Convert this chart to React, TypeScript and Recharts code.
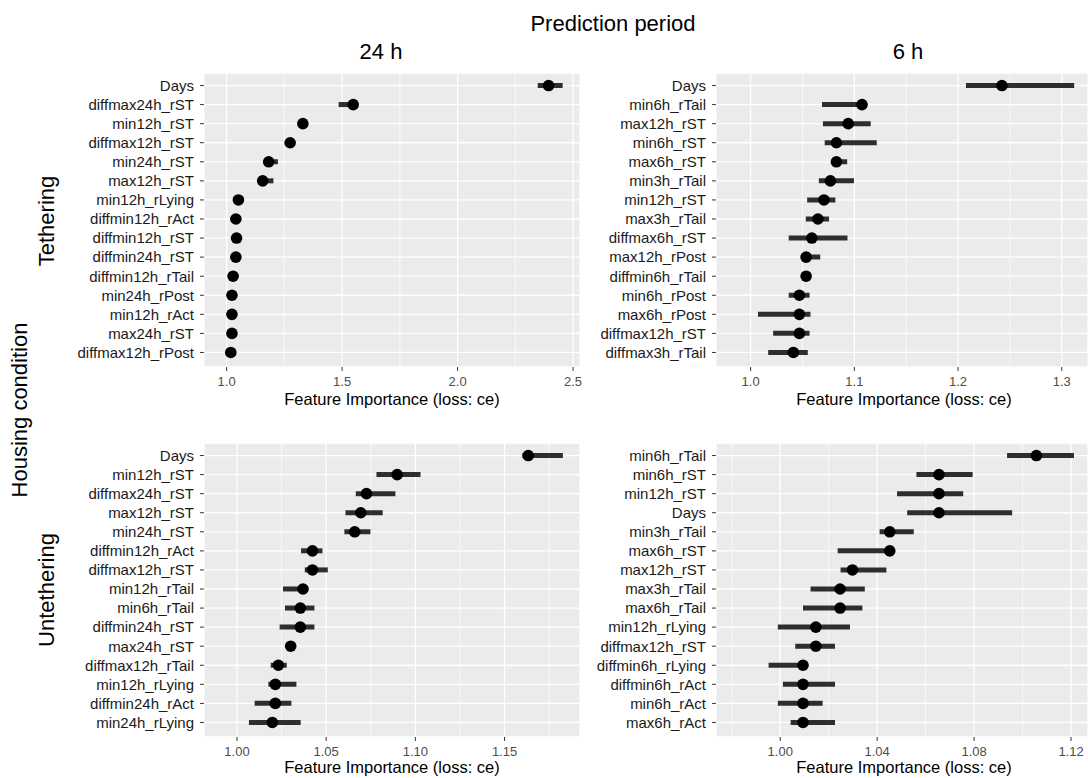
import React from 'react'
import { ComposedChart, Bar, Line, XAxis, YAxis, CartesianGrid } from 'recharts'

const FONT = '"Liberation Sans", Arial, Helvetica, sans-serif'

// Tethering, 24 h
const names24T = ['Days', 'diffmax24h_rST', 'min12h_rST', 'diffmax12h_rST', 'min24h_rST', 'max12h_rST', 'min12h_rLying', 'diffmin12h_rAct', 'diffmin12h_rST', 'diffmin24h_rST', 'diffmin12h_rTail', 'min24h_rPost', 'min12h_rAct', 'max24h_rST', 'diffmax12h_rPost']
const value24T = [2.394, 1.548, 1.33, 1.275, 1.182, 1.156, 1.051, 1.04, 1.043, 1.04, 1.028, 1.023, 1.023, 1.023, 1.018]
const lo24T = [2.347, 1.485, 1.325, 1.27, 1.175, 1.15, 1.046, 1.035, 1.038, 1.035, 1.024, 1.019, 1.019, 1.019, 1.014]
const hi24T = [2.455, 1.552, 1.335, 1.28, 1.222, 1.2025, 1.055, 1.045, 1.048, 1.045, 1.032, 1.027, 1.027, 1.027, 1.022]

// Tethering, 6 h
const names6T = ['Days', 'min6h_rTail', 'max12h_rST', 'min6h_rST', 'max6h_rST', 'min3h_rTail', 'min12h_rST', 'max3h_rTail', 'diffmax6h_rST', 'max12h_rPost', 'diffmin6h_rTail', 'min6h_rPost', 'max6h_rPost', 'diffmax12h_rST', 'diffmax3h_rTail']
const value6T = [1.2423, 1.1074, 1.0941, 1.0827, 1.0827, 1.0769, 1.0707, 1.0649, 1.059, 1.0535, 1.0535, 1.047, 1.047, 1.047, 1.0412]
const lo6T = [1.2076, 1.0688, 1.0697, 1.0714, 1.0788, 1.0658, 1.0545, 1.0532, 1.0367, 1.0496, 1.051, 1.0367, 1.0071, 1.0217, 1.0169]
const hi6T = [1.312, 1.1074, 1.1158, 1.1216, 1.0931, 1.0996, 1.0817, 1.0756, 1.0934, 1.0671, 1.056, 1.0568, 1.0577, 1.0568, 1.0551]

// Untethering, 24 h
const names24U = ['Days', 'min12h_rST', 'diffmax24h_rST', 'max12h_rST', 'min24h_rST', 'diffmin12h_rAct', 'diffmax12h_rST', 'min12h_rTail', 'min6h_rTail', 'diffmin24h_rST', 'max24h_rST', 'diffmax12h_rTail', 'min12h_rLying', 'diffmin24h_rAct', 'min24h_rLying']
const value24U = [1.1633, 1.0898, 1.0726, 1.0694, 1.066, 1.0423, 1.0423, 1.037, 1.0355, 1.0355, 1.0301, 1.0232, 1.0215, 1.0215, 1.0198]
const lo24U = [1.16, 1.0782, 1.0666, 1.0608, 1.0602, 1.0359, 1.038, 1.0258, 1.0269, 1.0239, 1.029, 1.0189, 1.0176, 1.0099, 1.0067]
const hi24U = [1.1827, 1.1029, 1.0888, 1.0817, 1.0748, 1.0479, 1.0509, 1.0387, 1.0434, 1.0434, 1.031, 1.0279, 1.0333, 1.0305, 1.0357]

// Untethering, 6 h
const names6U = ['min6h_rTail', 'min6h_rST', 'min12h_rST', 'Days', 'min3h_rTail', 'max6h_rST', 'max12h_rST', 'max3h_rTail', 'max6h_rTail', 'min12h_rLying', 'diffmax12h_rST', 'diffmin6h_rLying', 'diffmin6h_rAct', 'min6h_rAct', 'max6h_rAct']
const value6U = [1.1057, 1.0655, 1.0655, 1.0655, 1.0452, 1.0452, 1.0298, 1.0247, 1.0247, 1.0147, 1.0147, 1.0094, 1.0094, 1.0094, 1.0094]
const lo6U = [1.0936, 1.0562, 1.0482, 1.0524, 1.041, 1.0237, 1.0249, 1.0125, 1.0094, 0.999, 1.0062, 0.9952, 1.0011, 0.999, 1.0043]
const hi6U = [1.1212, 1.0794, 1.0755, 1.0957, 1.0551, 1.0452, 1.0438, 1.0349, 1.0339, 1.0288, 1.0226, 1.0094, 1.0226, 1.0175, 1.0226]

// axis ticks
const ticks24T = [1.0, 1.5, 2.0, 2.5]
const minor24T = [1.25, 1.75, 2.25]
const ticks6T = [1.0, 1.1, 1.2, 1.3]
const minor6T = [1.05, 1.15, 1.25]
const ticks24U = [1.0, 1.05, 1.1, 1.15]
const minor24U = [1.025, 1.075, 1.125, 1.175]
const ticks6U = [1.0, 1.04, 1.08, 1.12]
const minor6U = [0.98, 1.02, 1.06, 1.1]

type Row = { name: string; value: number; range: [number, number] }

function makeRows(names: string[], values: number[], lo: number[], hi: number[]): Row[] {
  return names.map((name, i) => ({ name, value: values[i], range: [lo[i], hi[i]] }))
}

const PLOT_H = 294
const AXIS_H = 30

function Panel({
  left, top, width, marginRight, yWidth, data, domain, ticks, minor, digits,
}: {
  left: number
  top: number
  width: number
  marginRight: number
  yWidth: number
  data: Row[]
  domain: [number, number]
  ticks: number[]
  minor: number[]
  digits: number
}) {
  return (
    <div style={{ position: 'absolute', left, top }}>
      <ComposedChart
        width={width}
        height={PLOT_H + AXIS_H}
        data={data}
        layout="vertical"
        margin={{ top: 0, right: marginRight, bottom: 0, left: 0 }}
      >
        <CartesianGrid fill="#EBEBEB" stroke="#FFFFFF" strokeWidth={1.3} />
        <CartesianGrid horizontal={false} verticalValues={minor} stroke="#FFFFFF" strokeWidth={0.7} />
        <XAxis
          type="number"
          domain={domain}
          ticks={ticks}
          allowDataOverflow
          interval={0}
          height={AXIS_H}
          axisLine={false}
          tickLine={{ stroke: '#333' }}
          tickSize={4}
          tickMargin={6}
          tick={{ fill: '#4d4d4d', fontSize: 13 }}
          tickFormatter={(v: number) => v.toFixed(digits)}
        />
        <YAxis
          type="category"
          dataKey="name"
          width={yWidth}
          interval={0}
          axisLine={false}
          tickLine={{ stroke: '#333' }}
          tickSize={4}
          tickMargin={6}
          padding={{ top: 3, bottom: 5 }}
          tick={{ fill: '#1a1a1a', fontSize: 15 }}
        />
        <Bar dataKey="range" barSize={5} fill="#2e2e2e" isAnimationActive={false} />
        <Line
          dataKey="value"
          stroke="transparent"
          strokeWidth={0}
          dot={{ r: 5.8, fill: '#000', stroke: '#000', strokeWidth: 0 }}
          activeDot={false}
          isAnimationActive={false}
        />
      </ComposedChart>
    </div>
  )
}

export default function App() {
  const axisTitle = 'Feature Importance (loss: ce)'
  return (
    <div style={{ position: 'absolute', left: 0, top: 0, width: 1088, height: 778, background: '#fff', fontFamily: FONT, overflow: 'hidden' }}>
      <Panel left={0} top={73} width={600} marginRight={20} yWidth={204}
        data={makeRows(names24T, value24T, lo24T, hi24T)} domain={[0.902, 2.53]} ticks={ticks24T} minor={minor24T} digits={1} />
      <Panel left={560} top={73} width={528} marginRight={0} yWidth={156}
        data={makeRows(names6T, value6T, lo6T, hi6T)} domain={[0.9666, 1.3253]} ticks={ticks6T} minor={minor6T} digits={1} />
      <Panel left={0} top={443} width={600} marginRight={20} yWidth={204}
        data={makeRows(names24U, value24U, lo24U, hi24U)} domain={[0.9815, 1.1923]} ticks={ticks24U} minor={minor24U} digits={2} />
      <Panel left={560} top={443} width={528} marginRight={0} yWidth={156}
        data={makeRows(names6U, value6U, lo6U, hi6U)} domain={[0.9735, 1.127]} ticks={ticks6U} minor={minor6U} digits={2} />

      <svg width={1088} height={778} style={{ position: 'absolute', left: 0, top: 0, pointerEvents: 'none' }}>
        <g fontFamily={FONT} fill="#000">
          <text x={613} y={31} fontSize={22} textAnchor="middle">Prediction period</text>
          <text x={381} y={59} fontSize={22} textAnchor="middle">24 h</text>
          <text x={908} y={59} fontSize={22} textAnchor="middle">6 h</text>
          <text x={392} y={405} fontSize={16.5} textAnchor="middle">{axisTitle}</text>
          <text x={904} y={405} fontSize={16.5} textAnchor="middle">{axisTitle}</text>
          <text x={392} y={773} fontSize={16.5} textAnchor="middle">{axisTitle}</text>
          <text x={904} y={773} fontSize={16.5} textAnchor="middle">{axisTitle}</text>
          <text transform="translate(27,410) rotate(-90)" fontSize={22} textAnchor="middle">Housing condition</text>
          <text transform="translate(54,221) rotate(-90)" fontSize={22} textAnchor="middle">Tethering</text>
          <text transform="translate(54,590) rotate(-90)" fontSize={22} textAnchor="middle">Untethering</text>
        </g>
      </svg>
    </div>
  )
}
